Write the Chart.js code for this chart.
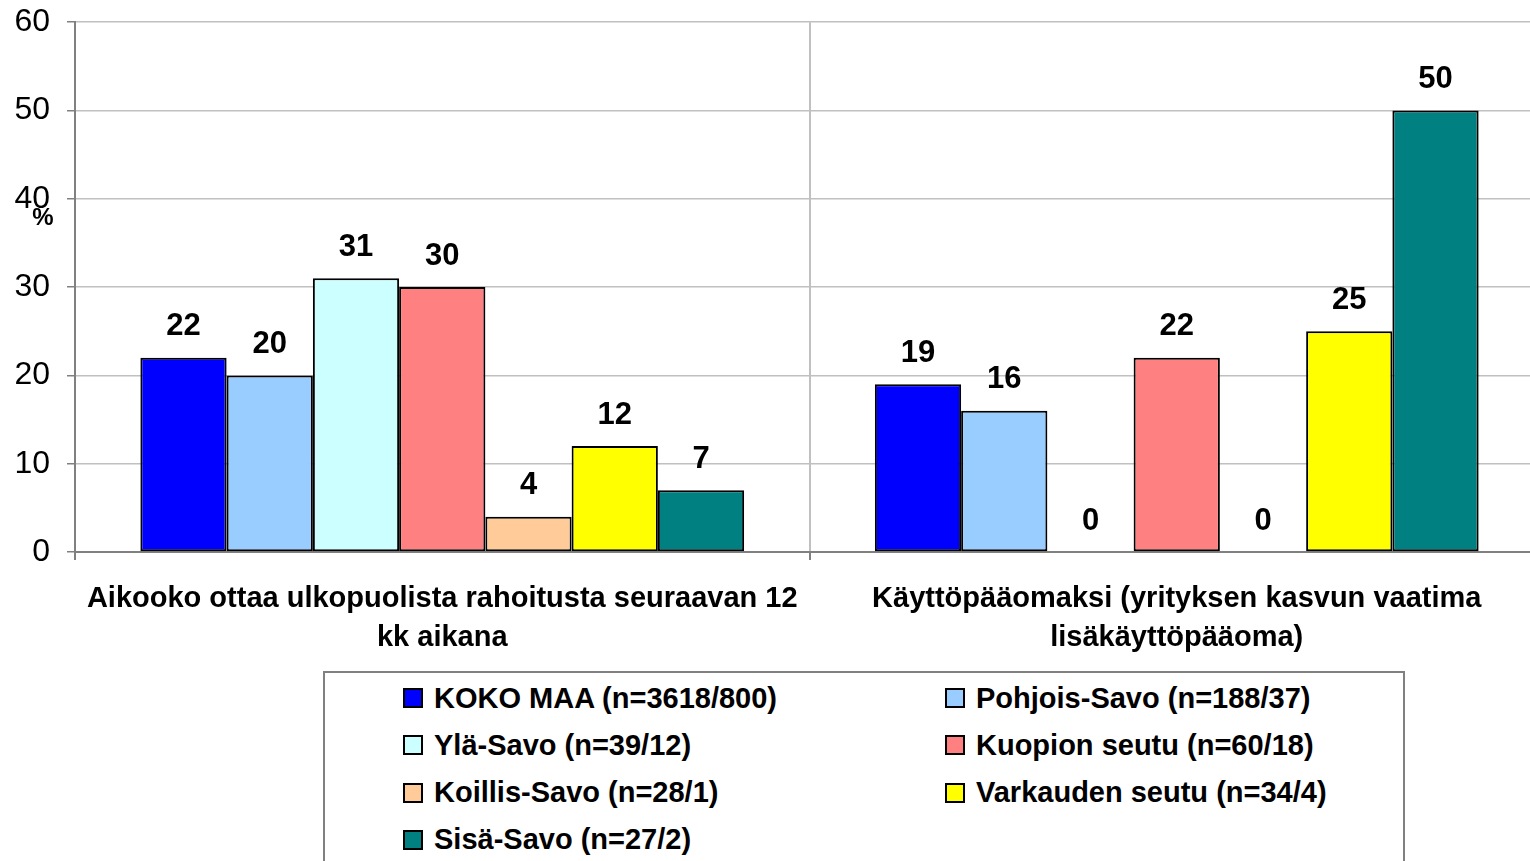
<!DOCTYPE html>
<html lang="fi">
<head>
  <meta charset="UTF-8" />
  <title>Ulkopuolinen rahoitus</title>
  <script src="https://cdn.jsdelivr.net/npm/chart.js"></script>
  <style>
    html, body { margin: 0; padding: 0; background: #fff; overflow: hidden; width: 1530px; height: 861px; }
    #wrap { position: relative; width: 1530px; height: 861px; overflow: hidden; }
    #chart { position: absolute; left: 0; top: -14px; }
    .legend {
      position: absolute; left: 323px; top: 671px; width: 1082px; height: 220px;
      border: 2px solid #808080; box-sizing: border-box;
      font-family: "Liberation Sans", Arial, sans-serif; font-weight: bold; font-size: 29px; color: #000;
    }
    .legend .item { position: absolute; display: flex; align-items: center; white-space: nowrap; }
    .legend .sw { width: 16px; height: 16px; border: 2px solid #000; margin-right: 11px; }
  </style>
</head>
<body>
  <div id="wrap">
    <canvas id="chart" width="1544" height="684"></canvas>
    <div class="legend" id="legend"></div>
  </div>

  <script>
    // data
    const categories = [
      ['Aikooko ottaa ulkopuolista rahoitusta seuraavan 12', 'kk aikana'],
      ['Käyttöpääomaksi (yrityksen kasvun vaatima', 'lisäkäyttöpääoma)']
    ];
    const seriesNames = [
      'KOKO MAA (n=3618/800)',
      'Pohjois-Savo (n=188/37)',
      'Ylä-Savo (n=39/12)',
      'Kuopion seutu (n=60/18)',
      'Koillis-Savo (n=28/1)',
      'Varkauden seutu (n=34/4)',
      'Sisä-Savo (n=27/2)'
    ];
    const kokoMaa = [22, 19];
    const pohjoisSavo = [20, 16];
    const ylaSavo = [31, 0];
    const kuopionSeutu = [30, 22];
    const koillisSavo = [4, 0];
    const varkaudenSeutu = [12, 25];
    const sisaSavo = [7, 50];
    const yTicks = [0, 10, 20, 30, 40, 50, 60];

    const seriesValues = [kokoMaa, pohjoisSavo, ylaSavo, kuopionSeutu, koillisSavo, varkaudenSeutu, sisaSavo];
    const colors = ['#0000FF', '#99CCFF', '#CCFFFF', '#FF8080', '#FFCC99', '#FFFF00', '#008080'];

    const datasets = seriesNames.map((name, i) => ({
      label: name,
      data: seriesValues[i],
      backgroundColor: colors[i],
      borderColor: '#000',
      borderWidth: 2,
      borderSkipped: false,
      barPercentage: 1,
      categoryPercentage: 0.822
    }));

    // value labels above the bars
    const valueLabels = {
      id: 'valueLabels',
      afterDatasetsDraw(chart) {
        const ctx = chart.ctx;
        ctx.save();
        ctx.font = 'bold 31px "Liberation Sans", Arial, sans-serif';
        ctx.fillStyle = '#000';
        ctx.textAlign = 'center';
        ctx.textBaseline = 'middle';
        chart.data.datasets.forEach((ds, i) => {
          chart.getDatasetMeta(i).data.forEach((bar, j) => {
            ctx.fillText(ds.data[j], bar.x, bar.y - 31);
          });
        });
        // y axis unit
        const y = chart.scales.y;
        ctx.font = 'bold 24px "Liberation Sans", Arial, sans-serif';
        ctx.fillText('%', chart.chartArea.left - 32, y.getPixelForValue(37.8));
        ctx.restore();
      }
    };

    new Chart(document.getElementById('chart').getContext('2d'), {
      type: 'bar',
      data: { labels: categories, datasets },
      options: {
        responsive: false,
        animation: false,
        layout: { padding: { top: 4, right: 0, left: 0, bottom: 0 } },
        plugins: { legend: { display: false }, tooltip: { enabled: false } },
        scales: {
          x: {
            afterFit(s) { s.height = 118; },
            grid: { color: '#c0c0c0', tickColor: '#808080', tickLength: 8, lineWidth: 2 },
            border: { color: '#808080', width: 2 },
            ticks: {
              color: '#000', padding: 19, maxRotation: 0, autoSkip: false,
              font: { family: '"Liberation Sans", Arial, sans-serif', weight: 'bold', size: 29, lineHeight: 1.35 }
            }
          },
          y: {
            min: 0, max: 60,
            afterFit(s) { s.width = 75; },
            afterBuildTicks(s) { s.ticks = yTicks.map(v => ({ value: v })); },
            grid: { color: '#c0c0c0', tickColor: '#808080', tickLength: 8, lineWidth: 1.5 },
            border: { color: '#808080', width: 2 },
            ticks: {
              color: '#000', padding: 17,
              font: { family: '"Liberation Sans Narrow", "Liberation Sans", Arial, sans-serif', size: 32 }
            }
          }
        }
      },
      plugins: [valueLabels]
    });

    // legend in two columns
    const legend = document.getElementById('legend');
    seriesNames.forEach((name, i) => {
      const item = document.createElement('div');
      item.className = 'item';
      item.style.left = (i % 2 === 0 ? 78 : 620) + 'px';
      item.style.top = (7 + Math.floor(i / 2) * 47.3) + 'px';
      item.style.height = '36px';
      item.innerHTML = '<span class="sw" style="background:' + colors[i] + '"></span><span>' + name + '</span>';
      legend.appendChild(item);
    });
  </script>
</body>
</html>
